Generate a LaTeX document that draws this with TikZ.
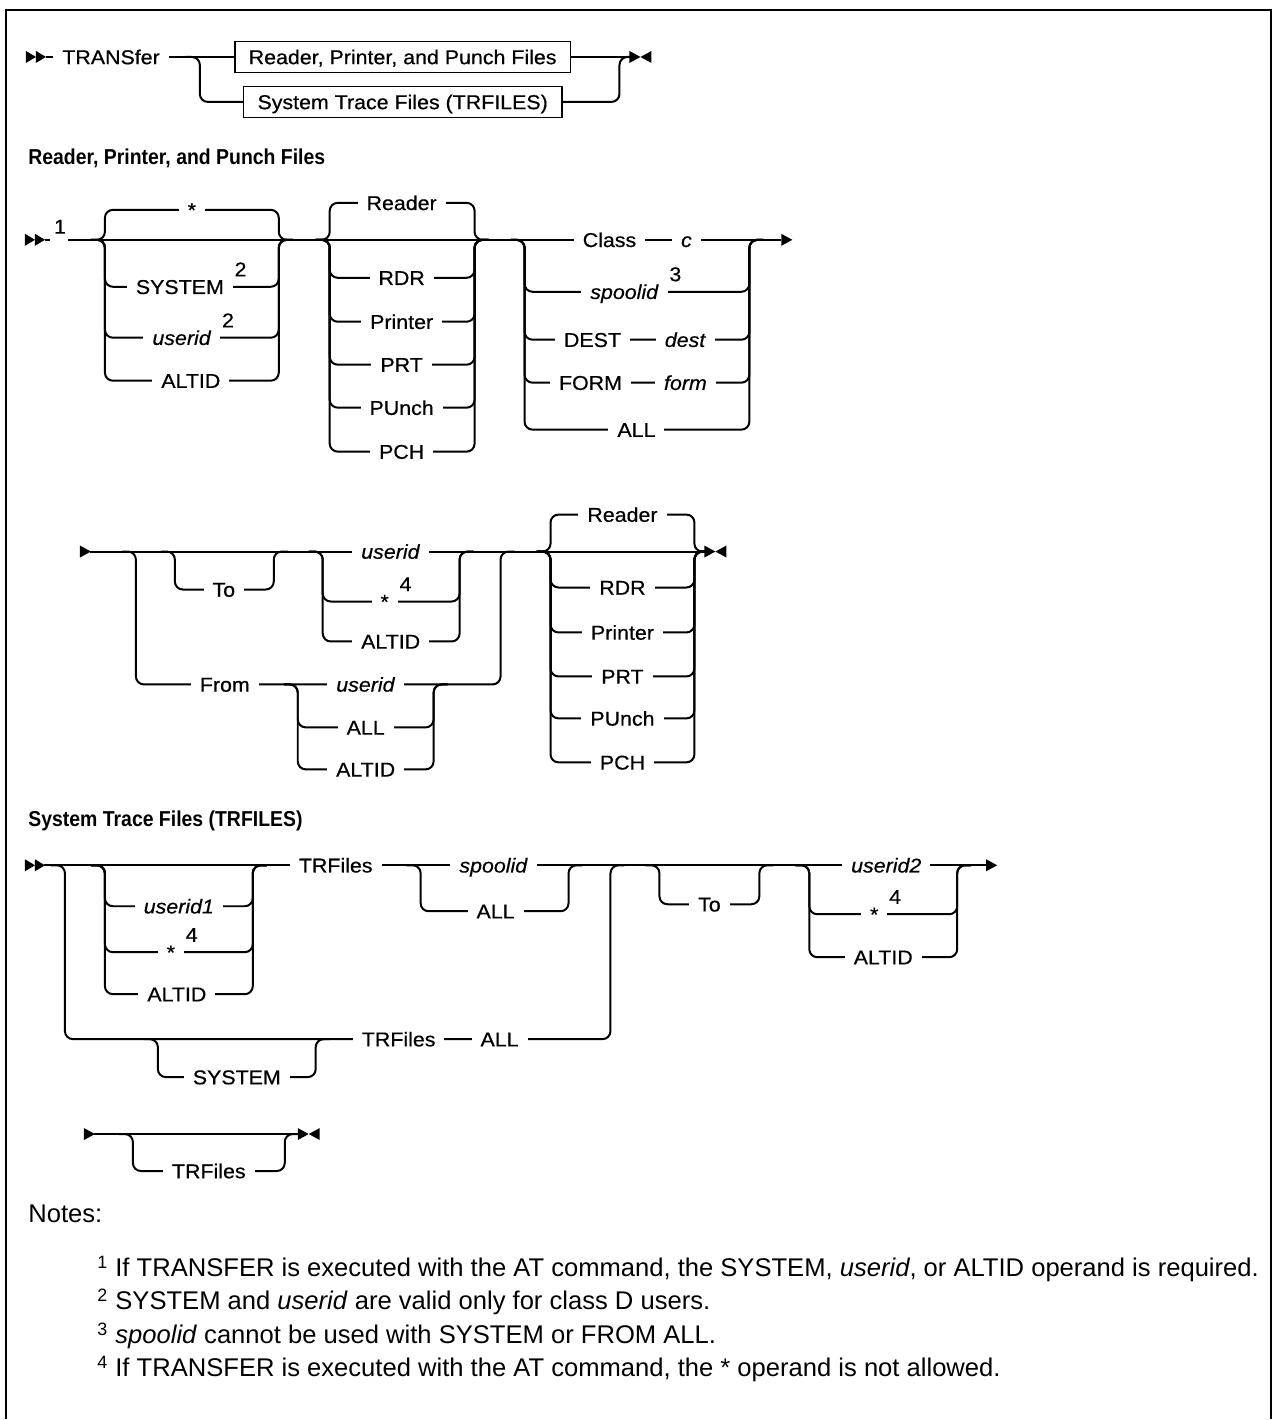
\documentclass[tikz,border=0pt]{standalone}
\usepackage{fontspec}
\setmainfont{Liberation Sans}
\newfontfamily\diagfam[FakeStretch=1.07,FakeBold=0.5]{Liberation Sans}
\newfontfamily\headfam[FakeStretch=0.9]{Liberation Sans}
\usetikzlibrary{positioning}

\newcommand{\lblfont}{\diagfam\fontsize{10}{12}\selectfont}
\newcommand{\supfont}{\diagfam\fontsize{10}{12}\selectfont}
\newcommand{\headfont}{\headfam\bfseries\fontsize{10.8}{13}\selectfont}
\newcommand{\notefont}{\fontsize{12.8}{15}\selectfont}

% one alternative branch: left rail, right rail, row of the main line, row of the branch
\newcommand{\railalt}[4]{\draw[track] (#1-14,#3) -- (#1,#3) -- (#1,#4) -- (#2,#4) -- (#2,#3) -- (#2+14,#3);}
\newcommand{\railstart}[2]{\fill (#1,#2-6) -- (#1+10,#2) -- (#1,#2+6) -- cycle;
  \fill (#1+10,#2-6) -- (#1+20,#2) -- (#1+10,#2+6) -- cycle;}
\newcommand{\railend}[2]{\fill (#1,#2-6) -- (#1+11,#2) -- (#1,#2+6) -- cycle;
  \fill (#1+22,#2-6) -- (#1+11,#2) -- (#1+22,#2+6) -- cycle;}
\newcommand{\railcont}[2]{\fill (#1,#2-6) -- (#1+11,#2) -- (#1,#2+6) -- cycle;}

\begin{document}
\begin{tikzpicture}[x=0.5pt,y=-0.5pt,
  track/.style={line width=1pt, rounded corners=4pt},
  lbl/.style={fill=white, inner xsep=4.5pt, inner ysep=2pt, text height=7.2pt, text depth=0pt, font=\lblfont},
  sup/.style={inner sep=0.5pt, font=\supfont},
  box/.style={draw, line width=0.8pt, fill=white, inner xsep=7pt, minimum height=15.5pt, text height=7.2pt, text depth=0pt, font=\lblfont},
  head/.style={anchor=base west, inner sep=0pt, font=\headfont},
  note/.style={anchor=base west, inner sep=0pt, font=\notefont}]
\fill[white] (0,0) rectangle (1274,1420);
\draw[line width=1.2pt] (6,1420) -- (6,10) -- (1272,10) -- (1272,1420);

% top line
\railstart{26}{57}
\draw[track] (46,57) -- (630,57);
\railalt{200}{620}{57}{102}
\node[lbl, anchor=west] (transfer) at (53,57) {TRANSfer};
\node[box] (rppfiles) at (403,57) {Reader, Printer, and Punch Files};
\node[box] (trfiles) at (403,102) {System Trace Files (TRFILES)};
\railend{630}{57}

% Reader, Printer, and Punch Files
\node[head] (headA) at (28,165) {Reader, Printer, and Punch Files};
\railstart{25}{240}
\draw[track] (45,240) -- (50,240);
\draw[track] (68,240) -- (782,240);
\railalt{105}{279}{240}{210}
\railalt{105}{279}{240}{287}
\railalt{105}{279}{240}{338}
\railalt{105}{279}{240}{381}
\railalt{330}{475}{240}{203}
\railalt{330}{475}{240}{278}
\railalt{330}{475}{240}{322}
\railalt{330}{475}{240}{365}
\railalt{330}{475}{240}{408}
\railalt{330}{475}{240}{452}
\railalt{525}{750}{240}{292}
\railalt{525}{750}{240}{340}
\railalt{525}{750}{240}{383}
\railalt{525}{750}{240}{430}
\railcont{782}{240}
\node[sup] (fnA) at (60,227) {1};
\node[lbl] (starA) at (192,210) {*};
\node[lbl] (systemA) at (180,287) {SYSTEM};
\node[sup, above right=4.5pt and 0pt of systemA.east] (fnB) {2};
\node[lbl] (useridA) at (182,338) {\textit{userid}};
\node[sup, above right=4.5pt and 0pt of useridA.east] (fnC) {2};
\node[lbl] (altidA) at (191,381) {ALTID};
\node[lbl] (readerA) at (402,203) {Reader};
\node[lbl] (rdrA) at (402,278) {RDR};
\node[lbl] (printerA) at (402,322) {Printer};
\node[lbl] (prtA) at (402,365) {PRT};
\node[lbl] (punchA) at (402,408) {PUnch};
\node[lbl] (pchA) at (402,452) {PCH};
\node[lbl] (classA) at (610,240) {Class};
\node[lbl] (cvalA) at (687,240) {\textit{c}};
\node[lbl] (spoolA) at (625,292) {\textit{spoolid}};
\node[sup, above right=4.5pt and 0pt of spoolA.east] (fnD) {3};
\node[lbl] (destA) at (593,340) {DEST};
\node[lbl] (destvA) at (686,340) {\textit{dest}};
\node[lbl] (formA) at (591,383) {FORM};
\node[lbl] (formvA) at (686,383) {\textit{form}};
\node[lbl] (allA) at (637,430) {ALL};

% second line
\railcont{80}{552}
\draw[track] (90,552) -- (705,552);
\railalt{136}{501}{552}{685}
\railalt{175}{274}{552}{590}
\railalt{323}{460}{552}{602}
\railalt{323}{460}{552}{642}
\railalt{298}{434}{685}{728}
\railalt{298}{434}{685}{770}
\railalt{551}{695}{552}{515}
\railalt{551}{695}{552}{588}
\railalt{551}{695}{552}{633}
\railalt{551}{695}{552}{677}
\railalt{551}{695}{552}{719}
\railalt{551}{695}{552}{763}
\railend{705}{552}
\node[lbl] (toA) at (224,590) {To};
\node[lbl] (useridB) at (391,552) {\textit{userid}};
\node[lbl] (starB) at (385,602) {*};
\node[sup, above right=4.5pt and 0pt of starB.east] (fnE) {4};
\node[lbl] (altidB) at (391,642) {ALTID};
\node[lbl] (fromA) at (225,685) {From};
\node[lbl] (useridC) at (366,685) {\textit{userid}};
\node[lbl] (allB) at (366,728) {ALL};
\node[lbl] (altidC) at (366,770) {ALTID};
\node[lbl] (readerB) at (623,515) {Reader};
\node[lbl] (rdrB) at (623,588) {RDR};
\node[lbl] (printerB) at (623,633) {Printer};
\node[lbl] (prtB) at (623,677) {PRT};
\node[lbl] (punchB) at (623,719) {PUnch};
\node[lbl] (pchB) at (623,763) {PCH};

% System Trace Files (TRFILES)
\node[head] (headB) at (28,827) {System Trace Files (TRFILES)};
\railstart{25}{866}
\draw[track] (44,866) -- (988,866);
\railalt{65}{611}{866}{1040}
\railalt{105}{253}{866}{907}
\railalt{105}{253}{866}{953}
\railalt{105}{253}{866}{995}
\railalt{421}{569}{866}{912}
\railalt{660}{760}{866}{905}
\railalt{810}{958}{866}{915}
\railalt{810}{958}{866}{958}
\railalt{158}{316}{1040}{1078}
\railcont{987}{866}
\node[lbl] (useridD) at (179,907) {\textit{userid1}};
\node[lbl] (starC) at (171,953) {*};
\node[sup, above right=4.5pt and 0pt of starC.east] (fnF) {4};
\node[lbl] (altidD) at (177,995) {ALTID};
\node[lbl] (trfA) at (336,866) {TRFiles};
\node[lbl] (spoolB) at (494,866) {\textit{spoolid}};
\node[lbl] (allC) at (496,912) {ALL};
\node[lbl] (toB) at (710,905) {To};
\node[lbl] (useridE) at (887,866) {\textit{userid2}};
\node[lbl] (starD) at (875,915) {*};
\node[sup, above right=4.5pt and 0pt of starD.east] (fnG) {4};
\node[lbl] (altidE) at (884,958) {ALTID};
\node[lbl] (systemB) at (237,1078) {SYSTEM};
\node[lbl] (trfB) at (399,1040) {TRFiles};
\node[lbl] (allD) at (500,1040) {ALL};

% third line
\railcont{84}{1135}
\draw[track] (94,1135) -- (298,1135);
\railalt{133}{285}{1135}{1172}
\node[lbl] (trfC) at (209,1172) {TRFiles};
\railend{298}{1135}

% notes
\node[note] (notes) at (28,1224) {Notes:};
\node[note] (noteA) at (97,1278) {\textsuperscript{1} If TRANSFER is executed with the AT command, the SYSTEM, \textit{userid}, or ALTID operand is required.};
\node[note] (noteB) at (97,1311) {\textsuperscript{2} SYSTEM and \textit{userid} are valid only for class D users.};
\node[note] (noteC) at (97,1345) {\textsuperscript{3} \textit{spoolid} cannot be used with SYSTEM or FROM ALL.};
\node[note] (noteD) at (97,1378) {\textsuperscript{4} If TRANSFER is executed with the AT command, the * operand is not allowed.};
\end{tikzpicture}
\end{document}
